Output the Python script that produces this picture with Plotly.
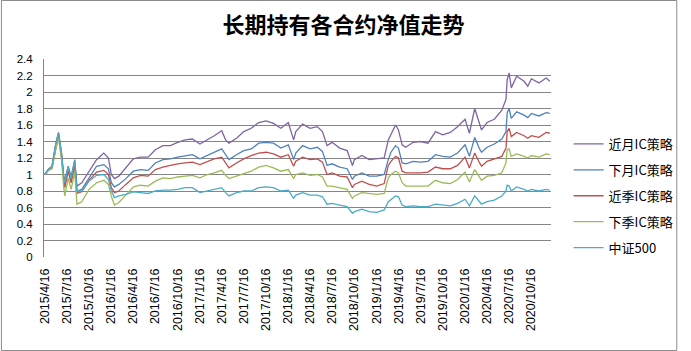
import plotly.graph_objects as go

dates = ["2015-04-16","2015-05-01","2015-05-16","2015-06-01","2015-06-12","2015-06-25","2015-07-03","2015-07-08",
         "2015-07-22","2015-08-03","2015-08-18","2015-08-27","2015-09-16","2015-10-16","2015-11-16","2015-12-16",
         "2016-01-04","2016-01-16","2016-01-29","2016-02-16","2016-03-16","2016-04-16","2016-05-16","2016-06-16",
         "2016-07-16","2016-08-16","2016-09-16","2016-10-16","2016-11-16","2016-12-16","2017-01-16","2017-02-16",
         "2017-03-16","2017-04-16","2017-05-02","2017-05-16","2017-06-16","2017-07-16","2017-08-16","2017-09-16",
         "2017-10-16","2017-11-16","2017-12-16","2018-01-16","2018-02-07","2018-02-16","2018-03-16","2018-04-16",
         "2018-05-16","2018-06-06","2018-06-25","2018-07-16","2018-08-16","2018-09-16","2018-10-08","2018-10-16",
         "2018-11-16","2018-12-16","2019-01-16","2019-02-16","2019-03-05","2019-03-16","2019-04-04","2019-04-16",
         "2019-05-01","2019-05-16","2019-06-16","2019-07-16","2019-08-16","2019-09-16","2019-10-16","2019-11-16",
         "2019-12-16","2020-01-16","2020-02-03","2020-02-25","2020-03-16","2020-03-24","2020-04-16","2020-05-16",
         "2020-06-16","2020-07-03","2020-07-08","2020-07-16","2020-07-25","2020-08-16","2020-09-16","2020-10-01",
         "2020-10-16","2020-11-16","2020-12-16","2020-12-31"]

near_month = [1.00,1.06,1.10,1.38,1.51,1.25,0.98,0.93,1.10,0.97,1.18,0.86,0.90,1.03,1.18,1.26,
              1.20,1.00,0.95,0.98,1.08,1.19,1.21,1.21,1.30,1.35,1.35,1.39,1.42,1.43,1.37,1.42,
              1.47,1.53,1.42,1.38,1.44,1.52,1.56,1.63,1.65,1.62,1.56,1.63,1.42,1.52,1.61,1.56,
              1.58,1.52,1.35,1.39,1.32,1.29,1.11,1.18,1.23,1.18,1.19,1.20,1.42,1.49,1.60,1.54,
              1.36,1.33,1.39,1.40,1.38,1.52,1.48,1.51,1.58,1.67,1.50,1.80,1.60,1.54,1.63,1.67,
              1.78,1.91,2.15,2.23,2.05,2.19,2.13,2.07,2.16,2.11,2.17,2.13]
next_month = [1.00,1.06,1.09,1.36,1.49,1.22,0.95,0.88,1.06,0.93,1.14,0.80,0.82,0.96,1.10,1.12,
              1.07,0.90,0.85,0.88,0.95,1.04,1.06,1.05,1.14,1.18,1.19,1.21,1.23,1.24,1.19,1.23,
              1.27,1.31,1.24,1.18,1.24,1.29,1.31,1.38,1.39,1.38,1.32,1.36,1.18,1.26,1.35,1.31,
              1.33,1.28,1.11,1.13,1.09,1.07,0.94,0.98,1.02,0.98,0.98,1.00,1.18,1.27,1.35,1.32,
              1.14,1.13,1.16,1.15,1.16,1.24,1.22,1.21,1.26,1.36,1.22,1.45,1.31,1.27,1.33,1.37,
              1.43,1.52,1.75,1.80,1.68,1.76,1.72,1.69,1.74,1.71,1.75,1.74]
near_quarter = [1.00,1.05,1.08,1.34,1.47,1.20,0.92,0.84,1.04,0.90,1.11,0.77,0.79,0.93,1.03,1.05,
                1.00,0.84,0.78,0.80,0.88,0.96,0.99,0.98,1.06,1.09,1.11,1.13,1.14,1.15,1.12,1.16,
                1.19,1.21,1.14,1.08,1.14,1.19,1.23,1.26,1.27,1.25,1.21,1.24,1.10,1.16,1.21,1.18,
                1.19,1.15,1.00,1.02,0.98,0.97,0.84,0.88,0.92,0.88,0.86,0.89,1.11,1.16,1.22,1.20,
                1.04,1.02,1.02,1.02,1.03,1.09,1.07,1.07,1.11,1.21,1.08,1.26,1.14,1.10,1.16,1.19,
                1.22,1.32,1.52,1.56,1.46,1.51,1.47,1.44,1.47,1.45,1.51,1.50]
next_quarter = [1.00,1.05,1.07,1.32,1.44,1.17,0.86,0.74,0.96,0.82,1.03,0.64,0.67,0.82,0.90,0.93,
                0.88,0.74,0.63,0.66,0.75,0.85,0.87,0.86,0.92,0.96,0.95,0.97,0.98,0.99,0.96,1.00,
                1.02,1.05,0.99,0.95,0.98,1.01,1.04,1.09,1.11,1.08,1.04,1.06,0.95,1.00,1.02,0.99,
                1.00,0.97,0.86,0.86,0.84,0.82,0.71,0.74,0.78,0.77,0.76,0.77,0.96,1.00,1.04,1.02,
                0.90,0.86,0.86,0.86,0.86,0.93,0.90,0.89,0.94,1.03,0.91,1.06,0.96,0.93,0.98,0.99,
                1.02,1.14,1.30,1.31,1.22,1.25,1.22,1.20,1.23,1.21,1.25,1.24]
csi500 = [1.00,1.06,1.10,1.38,1.50,1.24,0.98,0.90,1.10,0.95,1.17,0.80,0.80,0.92,0.99,1.00,
          0.94,0.80,0.72,0.74,0.76,0.79,0.78,0.77,0.80,0.81,0.81,0.82,0.84,0.84,0.78,0.80,
          0.82,0.84,0.78,0.74,0.78,0.80,0.80,0.84,0.85,0.84,0.80,0.81,0.71,0.75,0.78,0.75,
          0.75,0.73,0.64,0.65,0.63,0.61,0.53,0.55,0.58,0.55,0.54,0.57,0.67,0.70,0.74,0.73,
          0.63,0.61,0.62,0.61,0.61,0.64,0.63,0.62,0.65,0.70,0.62,0.74,0.67,0.64,0.67,0.69,
          0.74,0.80,0.87,0.86,0.80,0.85,0.82,0.80,0.82,0.80,0.82,0.81]

series_names = ["近月IC策略", "下月IC策略", "近季IC策略", "下季IC策略", "中证500"]
series_colors = ["#8064A2", "#4F81BD", "#C0504D", "#9BBB59", "#4BACC6"]
series_values = [near_month, next_month, near_quarter, next_quarter, csi500]

x_tick_vals = ["2015-04-16","2015-07-16","2015-10-16","2016-01-16","2016-04-16","2016-07-16","2016-10-16",
               "2017-01-16","2017-04-16","2017-07-16","2017-10-16","2018-01-16","2018-04-16","2018-07-16",
               "2018-10-16","2019-01-16","2019-04-16","2019-07-16","2019-10-16","2020-01-16","2020-04-16",
               "2020-07-16","2020-10-16"]
x_tick_text = ["2015/4/16","2015/7/16","2015/10/16","2016/1/16","2016/4/16","2016/7/16","2016/10/16",
               "2017/1/16","2017/4/16","2017/7/16","2017/10/16","2018/1/16","2018/4/16","2018/7/16",
               "2018/10/16","2019/1/16","2019/4/16","2019/7/16","2019/10/16","2020/1/16","2020/4/16",
               "2020/7/16","2020/10/16"]
y_tick_vals = [0, 0.2, 0.4, 0.6, 0.8, 1.0, 1.2, 1.4, 1.6, 1.8, 2.0, 2.2, 2.4]
y_tick_text = ["0", "0.2", "0.4", "0.6", "0.8", "1", "1.2", "1.4", "1.6", "1.8", "2", "2.2", "2.4"]

W, H = 691, 351
ML, MR, MT, MB = 44, 129, 59, 94

fig = go.Figure()
for name, color, vals in zip(series_names, series_colors, series_values):
    fig.add_trace(go.Scatter(x=dates, y=vals, mode="lines", name=name, legendgroup=name,
                             line=dict(color=color, width=1.3)))

pw, ph = W - ML - MR, H - MT - MB
fig.add_shape(type="rect", xref="paper", yref="paper",
              x0=-(ML - 0.5) / pw, x1=1 + (MR - 0.5) / pw,
              y0=-(MB - 0.5) / ph, y1=1 + (MT - 0.5) / ph,
              line=dict(color="#8C8C8C", width=1), fillcolor="rgba(0,0,0,0)", layer="below")

fig.update_layout(
    width=W, height=H,
    margin=dict(l=ML, r=MR, t=MT, b=MB, pad=0),
    paper_bgcolor="white", plot_bgcolor="white",
    title=dict(text="<b>长期持有各合约净值走势</b>", x=0.497, xanchor="center", y=1 - 25 / H, yanchor="middle",
               font=dict(family="Noto Sans CJK SC", size=22, color="black")),
    legend=dict(x=1 + (580 - (W - MR)) / pw, xanchor="left", y=(H - MB - 196) / ph, yanchor="middle",
                font=dict(family="Noto Sans CJK SC", size=13, color="black"),
                tracegroupgap=6, bgcolor="rgba(0,0,0,0)", itemwidth=30),
    showlegend=True,
    xaxis=dict(type="date", range=["2015-04-13", "2021-01-05"], tickvals=x_tick_vals, ticktext=x_tick_text,
               tickangle=-90, showgrid=False, showline=False, zeroline=False, ticks="",
               ticklabelstandoff=8,
               tickfont=dict(family="Liberation Sans", size=12.5, color="black")),
    yaxis=dict(range=[0, 2.4], tickvals=y_tick_vals, ticktext=y_tick_text, showgrid=True,
               gridcolor="#868686", gridwidth=1, showline=True, linecolor="#868686", linewidth=1,
               zeroline=False, ticks="", ticklabelstandoff=8,
               tickfont=dict(family="Liberation Sans", size=11.5, color="black")),
)

fig.write_html("out.html")
